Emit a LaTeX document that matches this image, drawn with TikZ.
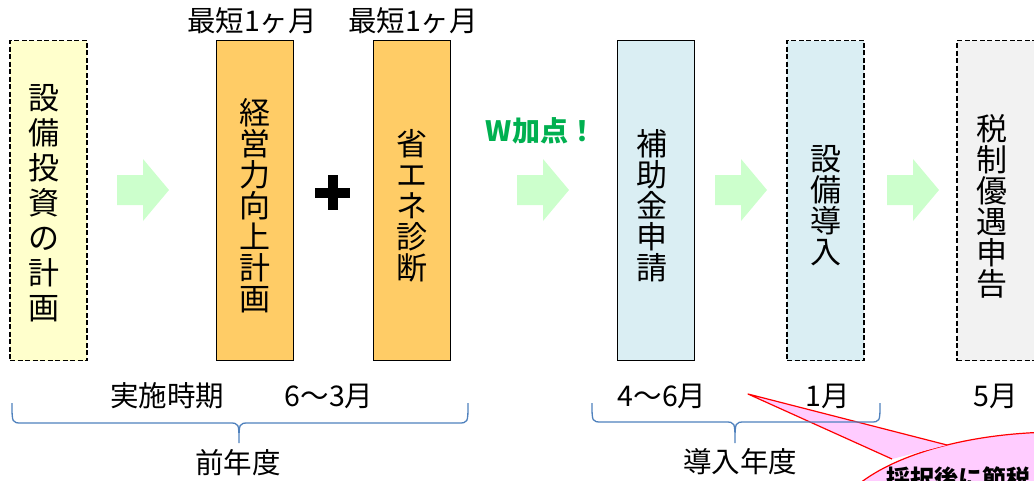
\documentclass[tikz,border=0pt]{standalone}
\usepackage{fontspec}
\setmainfont{Noto Sans CJK JP}
\definecolor{planyellow}{HTML}{FFFFCC}
\definecolor{planorange}{HTML}{FFCC66}
\definecolor{planblue}{HTML}{DAEEF3}
\definecolor{plangray}{HTML}{F2F2F2}
\definecolor{arrowgreen}{HTML}{CCFFCC}
\definecolor{wgreen}{HTML}{00B050}
\definecolor{bracecol}{HTML}{4F81BD}
\definecolor{calloutpink}{HTML}{FFCCFF}
\begin{document}
\begin{tikzpicture}[x=1pt,y=-1pt,
  box/.style={draw=black, line width=1.6pt, minimum width=77pt, minimum height=320pt, inner sep=0pt},
  dbox/.style={box, dash pattern=on 5pt off 2.5pt},
  vtext/.style={align=center, inner sep=0pt, font=\fontsize{31}{31}\selectfont},
  lbl/.style={inner sep=0pt, font=\fontsize{28.5}{28.5}\selectfont},
  garrow/.pic={\fill[arrowgreen] (0,-15) -- (26,-15) -- (26,-31) -- (52,0) -- (26,31) -- (26,15) -- (0,15) -- cycle;},
  bracel/.style={draw=bracecol, line width=1.3pt}
]
\useasboundingbox (0,0) rectangle (1034,480);
\clip (0,0) rectangle (1034,480);

% boxes
\node[dbox, fill=planyellow] (b1) at (48.5,200.5) {};
\node[box, fill=planorange] (b2) at (255,200.5) {};
\node[box, fill=planorange] (b3) at (412,200.5) {};
\node[box, fill=planblue] (b4) at (656,200.5) {};
\node[dbox, fill=planblue] (b5) at (825.5,200.5) {};
\node[dbox, fill=plangray, minimum width=90pt] (b6) at (1002,200.5) {};

% box texts
\node[vtext, font=\fontsize{31}{35}\selectfont] (t1) at (44,203) {設\\備\\投\\資\\の\\計\\画};
\node[vtext] (t2) at (255,206) {経\\営\\力\\向\\上\\計\\画};
\node[vtext] (t3) at (412,206) {省\\エ\\ネ\\診\\断};
\node[vtext] (t4) at (652,206) {補\\助\\金\\申\\請};
\node[vtext] (t5) at (825.5,206) {設\\備\\導\\入};
\node[vtext] (t6) at (992,206) {税\\制\\優\\遇\\申\\告};

% labels above
\node[lbl] (m2) at (252,21) {最短1ヶ月};
\node[lbl] (m3) at (413,21) {最短1ヶ月};
\node[inner sep=0pt, text=wgreen, font=\fontsize{28}{28}\selectfont\bfseries] (w) at (541,131) {W加点！};

% block arrows
\pic at (117,190) {garrow};
\pic at (517,190) {garrow};
\pic at (715,190) {garrow};
\pic at (887,190) {garrow};

% plus
\draw[line width=10pt] (315,192.5) -- (350,192.5);
\draw[line width=10pt] (332.5,175) -- (332.5,210);

% bottom labels
\node[lbl] (p1) at (167,396) {実施時期};
\node[lbl] (p2) at (329,396) {6～3月};
\node[lbl] (y1) at (238,463) {前年度};
\node[lbl] (q1) at (662,396) {4～6月};
\node[lbl] (q2) at (828,396) {1月};
\node[lbl] (q3) at (996,396) {5月};
\node[lbl] (y2) at (740,462) {導入年度};

% callout
\coordinate (ctip) at (748,394);
\coordinate (ca) at (947,445);
\coordinate (cb) at (892,459);
\draw[red, line width=1.2pt, fill=calloutpink] (1060,533) ellipse [x radius=230pt, y radius=101pt];
\fill[calloutpink] (ctip) -- (ca) -- (cb) -- cycle;
\draw[red, line width=1.2pt, line join=round] (ca) -- (ctip) -- (cb);
\node[anchor=west, inner sep=0pt, font=\fontsize{24}{24}\selectfont\bfseries] (ct) at (886,478) {採択後に節税};

% braces
\draw[bracel] (12,403) .. controls (12,423) .. (22,423) -- (229,423) .. controls (239,423) .. (239,443) .. controls (239,423) .. (249,423) -- (458,423) .. controls (468,423) .. (468,403);
\draw[bracel] (592,403) .. controls (592,422) .. (602,422) -- (725,422) .. controls (735,422) .. (735,443) .. controls (735,422) .. (745,422) -- (870,422) .. controls (880,422) .. (880,403);
\end{tikzpicture}
\end{document}
